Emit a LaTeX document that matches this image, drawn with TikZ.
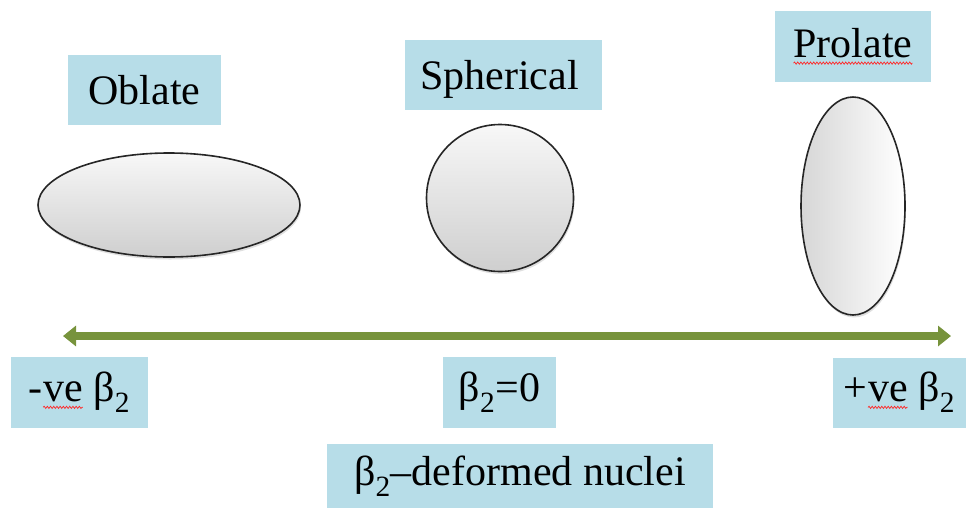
\documentclass[tikz,border=0pt]{standalone}
\usepackage{fontspec}
\setmainfont{Liberation Serif}
\usetikzlibrary{shadows,arrows.meta,shapes.geometric,decorations.pathmorphing}
\definecolor{boxblue}{HTML}{B7DDE8}
\definecolor{arrgreen}{HTML}{77933C}
\newcommand\redwave[1]{\tikz[baseline=(w.base)]{\node[inner sep=0pt,outer sep=0pt,minimum size=0pt,fill=none,draw=none,shape=rectangle] (w) {#1};\draw[red!85!white, line width=0.7pt, decorate, decoration={snake,amplitude=1.1pt,segment length=3.2pt}] ([yshift=-5.5pt]w.base west) -- ([yshift=-5.5pt]w.base east);}}
\newcommand\btwo{β\textsubscript{2}}
\begin{document}
\begin{tikzpicture}[x=1pt,y=-1pt,
  lbl/.style={fill=boxblue, inner sep=0pt, font=\fontsize{42}{50}\selectfont, text=black},
  solid3d/.style={draw=black!85, line width=1.6pt, inner sep=0pt,
    drop shadow={opacity=0.25,shadow xshift=1pt,shadow yshift=-2.5pt}},
  axisarrow/.style={draw=arrgreen, line width=8pt,
    {Triangle[width=20pt,length=13pt]}-{Triangle[width=20pt,length=13pt]}}]
\useasboundingbox (0,0) rectangle (968,509);
% top labels
\node[lbl, minimum width=153pt, minimum height=70pt] (oblbox) at (144.5,90) {Oblate};
\node[lbl, minimum width=197pt, minimum height=70pt, text depth=0pt] (sphbox) at (503.5,75) {\hspace*{-8pt}Spherical};
\node[lbl, minimum width=156pt, minimum height=71pt] (probox) at (853,46.5) {\redwave{Prolate}};
% shapes
\node[solid3d, ellipse, minimum width=262pt, minimum height=104pt,
  top color=gray!6, bottom color=gray!38] (obl) at (169,205) {};
\node[solid3d, circle, minimum size=147pt,
  top color=gray!6, bottom color=gray!38] (sph) at (500,198) {};
\node[solid3d, ellipse, minimum width=104pt, minimum height=218pt,
  left color=gray!32, right color=white] (pro) at (853,206) {};
% axis
\coordinate (la) at (63,336);
\coordinate (ra) at (951,336);
\draw[axisarrow] (la) -- (ra);
% bottom labels
\node[lbl, minimum width=137pt, minimum height=71pt] (neg) at (79.5,392.5) {-\redwave{ve} \btwo};
\node[lbl, minimum width=113pt, minimum height=71pt] (zero) at (499.5,392.5) {\btwo=0};
\node[lbl, minimum width=133pt, minimum height=70pt] (pos) at (899.5,392.5) {+\redwave{ve} \btwo};
\node[lbl, minimum width=386pt, minimum height=64pt] (def) at (520,476) {\btwo–deformed nuclei};
\end{tikzpicture}
\end{document}
